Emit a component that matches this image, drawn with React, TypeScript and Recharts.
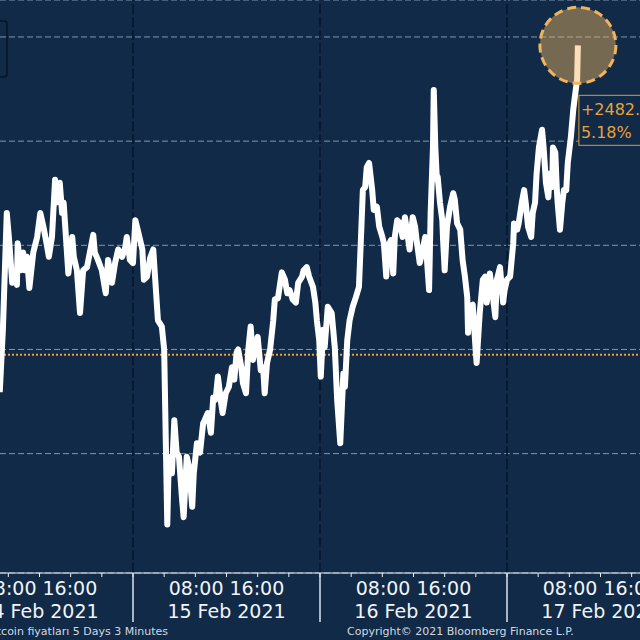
import { LineChart, Line, XAxis, YAxis, CartesianGrid, ReferenceLine } from "recharts";

// hours since 14 Feb 2021 00:00
const hours = [
  6.9, 7.3, 7.8, 8.1, 8.5, 8.9, 9.1, 9.2, 9.6, 9.9, 10.1, 10.4, 10.7, 11.2, 11.7, 12.1, 12.5, 13.0, 13.2, 13.6,
  14.0, 14.2, 14.6, 14.9, 15.1, 15.7, 16.2, 16.4, 16.8, 17.2, 17.6, 18.1, 18.9, 19.1, 19.5, 20.0, 20.5, 20.8, 21.3, 21.7,
  22.1, 22.6, 23.0, 23.2, 23.6, 24.0, 24.3, 24.6, 25.2, 25.4, 25.8, 26.2, 26.6, 26.8, 27.2, 27.7, 28.0, 28.4, 28.6, 29.0,
  29.3, 29.6, 29.9, 30.3, 30.5, 30.9, 31.2, 31.6, 31.8, 32.2, 32.6, 33.0, 33.2, 33.6, 34.0, 34.3, 34.6, 34.9, 35.3, 35.5,
  35.9, 36.3, 36.7, 37.0, 37.3, 37.5, 37.9, 38.1, 38.5, 38.8, 39.1, 39.4, 39.8, 40.0, 40.4, 40.7, 40.9, 41.2, 41.6, 42.0,
  42.2, 42.6, 43.1, 43.5, 43.8, 44.1, 44.5, 44.9, 45.2, 45.7, 45.9, 46.3, 46.6, 47.1, 47.4, 47.6, 47.9, 48.1, 48.4, 48.6,
  49.0, 49.5, 49.9, 50.2, 50.6, 51.0, 51.2, 51.5, 51.8, 52.2, 52.6, 53.0, 53.3, 53.5, 53.8, 54.0, 54.3, 54.7, 54.9, 55.3,
  55.6, 56.0, 56.2, 56.5, 56.7, 57.1, 57.4, 57.6, 57.9, 58.3, 58.6, 58.9, 59.2, 59.5, 59.9, 60.2, 60.4, 60.8, 61.1, 61.5,
  61.7, 62.0, 62.2, 62.5, 62.6, 62.8, 63.0, 63.1, 63.4, 63.7, 63.8, 64.0, 64.3, 64.7, 65.1, 65.3, 65.6, 66.0, 66.3, 66.6,
  66.9, 67.0, 67.2, 67.6, 68.0, 68.1, 68.5, 68.9, 69.2, 69.4, 69.8, 70.2, 70.5, 70.7, 71.1, 71.5, 71.7, 72.0, 72.4, 72.8,
  72.9, 73.3, 73.5, 73.9, 74.2, 74.4, 74.7, 75.1, 75.3, 75.6, 75.8, 76.1, 76.5, 76.7, 77.0, 77.3, 77.5, 77.8, 77.9, 78.2,
  78.4, 78.5, 78.8, 79.1, 79.3, 79.6, 79.8, 80.2, 80.5, 80.7, 81.0, 81.1,
];

const prices = [
  46590, 47190, 48310, 48050, 47640, 47740, 47620, 48020, 47760, 47930, 47760, 47890, 47590, 47930, 48080, 48310, 48180, 47980, 47890, 48080,
  48630, 48410, 48600, 48310, 48410, 47730, 48080, 47890, 47760, 47350, 47760, 47790, 48100, 47930, 47860, 47760, 47540, 47860, 47640, 47830,
  47960, 47890, 47980, 48080, 47860, 47830, 48240, 48150, 47960, 47670, 47700, 47880, 47960, 47730, 47280, 47220, 47000, 45320, 45970, 45810,
  46320, 46010, 45970, 45560, 45390, 45970, 45870, 45490, 45810, 46100, 46010, 46290, 46320, 46390, 46200, 46540, 46520, 46740, 46490, 46390,
  46580, 46640, 46830, 46710, 46970, 47000, 46830, 46680, 46580, 47000, 47220, 46900, 47090, 47120, 46800, 46830, 46580, 46870, 47000, 47280,
  47480, 47490, 47740, 47670, 47540, 47570, 47480, 47450, 47640, 47700, 47760, 47790, 47700, 47600, 47450, 47280, 47090, 46740, 47190, 47020,
  47410, 47350, 47020, 46520, 46100, 46770, 46640, 47090, 47280, 47410, 47500, 47600, 48150, 48530, 48560, 48750, 48790, 48530, 48340, 48370,
  48180, 48080, 48020, 47700, 47980, 48050, 47730, 48080, 48240, 48210, 48080, 48270, 48120, 47960, 48270, 48180, 48050, 47830, 47930, 48080,
  47890, 47570, 48310, 48940, 49490, 48940, 48630, 48660, 48410, 48240, 48050, 47760, 48180, 48370, 48500, 48440, 48210, 48150, 47860, 47700,
  47500, 47160, 47410, 47430, 46970, 46870, 47350, 47670, 47700, 47450, 47730, 47500, 47310, 47670, 47790, 47450, 47570, 47670, 47700, 48020,
  48210, 48150, 48210, 48410, 48530, 48410, 48180, 48080, 48310, 48410, 48690, 48940, 49110, 48940, 48600, 48460, 48690, 48560, 48940, 48890,
  48530, 48410, 48150, 48410, 48530, 48530, 48790, 49040, 49300, 49420, 49590, 49920,
];

const gridPrices = [46000, 47000, 48000, 49000, 50000];
const dayStarts = [24, 48, 72];
const axisTicks = [8, 12, 16, 20, 24, 28, 32, 36, 40, 44, 48, 52, 56, 60, 64, 68, 72, 76, 80, 84, 88];
const dayLabels = ["14 Feb 2021", "15 Feb 2021", "16 Feb 2021", "17 Feb 2021"];
const hourLabel = "08:00 16:00";
const refPrice = 46950;
const changeText = "+2482.";
const changePct = "5.18%";
const footerLeft = "Bitcoin fiyatları 5 Days 3 Minutes";
const footerRight = "Copyright© 2021 Bloomberg Finance L.P.";

const data = hours.map((h, i) => ({ h, p: prices[i] }));
const LAST = data.length - 1;

const W = 640;
const H = 640;
const BG = "#102a48";
const FONT = "'DejaVu Sans', Verdana, sans-serif";
const TICK = 4;

const DayTick = ({ x, y, payload }: any) => {
  const v = payload.value;
  const base = y - TICK;
  const hod = v % 24;
  if (hod === 0) {
    return <line x1={x} x2={x} y1={base} y2={base + 49} stroke="#dde3ea" strokeWidth={1.5} />;
  }
  if (hod === 12) {
    return (
      <g fontFamily={FONT} fontSize={19} fill="#f2f4f6">
        <text x={x} y={base + 22} textAnchor="middle">{hourLabel}</text>
        <text x={x} y={base + 45} textAnchor="middle">{dayLabels[Math.floor(v / 24)]}</text>
      </g>
    );
  }
  return <g />;
};

const LastDot = (props: any) => {
  const { cx, cy, index } = props;
  if (index !== LAST) return <g key={`d${index}`} />;
  return (
    <g key={`d${index}`}>
      <circle cx={cx} cy={cy} r={38} fill="#f5b55f" fillOpacity={0.45} stroke="#f2b45a" strokeWidth={3} strokeDasharray="9 5" />
      <rect x={cx + 1} y={cy + 50} width={80} height={50} fill={BG} stroke="#e39b2a" strokeWidth={1} />
      <g fontFamily={FONT} fontSize={16} fill="#eaa136">
        <text x={cx + 3} y={cy + 70}>{changeText}</text>
        <text x={cx + 3} y={cy + 93}>{changePct}</text>
      </g>
    </g>
  );
};

export default function App() {
  return (
    <div style={{ position: "absolute", left: 0, top: 0, width: W, height: H, background: BG, overflow: "hidden" }}>
      <LineChart width={W} height={H} data={data} margin={{ top: 0, right: 0, bottom: 0, left: 0 }}>
        <CartesianGrid vertical={false} stroke="#8596ab" strokeDasharray="6 3" strokeWidth={1} />
        <XAxis
          dataKey="h"
          type="number"
          domain={[6.93, 89.07]}
          allowDataOverflow
          ticks={axisTicks}
          interval={0}
          height={67}
          tickSize={TICK}
          tickMargin={0}
          stroke="#f0f0f0"
          axisLine={{ stroke: "#f0f0f0", strokeWidth: 1 }}
          tickLine={{ stroke: "#f0f0f0" }}
          tick={<DayTick />}
        />
        <YAxis hide type="number" domain={[44854, 50355]} ticks={gridPrices} allowDataOverflow />
        {dayStarts.map((d) => (
          <ReferenceLine key={d} x={d} stroke="#06152a" strokeWidth={1.5} strokeDasharray="10 3" />
        ))}
        <ReferenceLine y={refPrice} stroke="#f0a030" strokeWidth={2} strokeDasharray="2 2" />
        <Line
          dataKey="p"
          type="linear"
          stroke="#ffffff"
          strokeWidth={6}
          strokeLinejoin="round"
          dot={LastDot}
          activeDot={false}
          isAnimationActive={false}
        />
      </LineChart>
      <svg width={W} height={H} style={{ position: "absolute", left: 0, top: 0, pointerEvents: "none" }}>
        <rect x={-10} y={21} width={17} height={56} rx={3} fill="none" stroke="#061629" strokeWidth={1.5} />
        <g fontFamily={FONT} fontSize={11} fill="#d3d9e0">
          <text x={168} y={635} textAnchor="end">{footerLeft}</text>
          <text x={347} y={635}>{footerRight}</text>
        </g>
      </svg>
    </div>
  );
}
